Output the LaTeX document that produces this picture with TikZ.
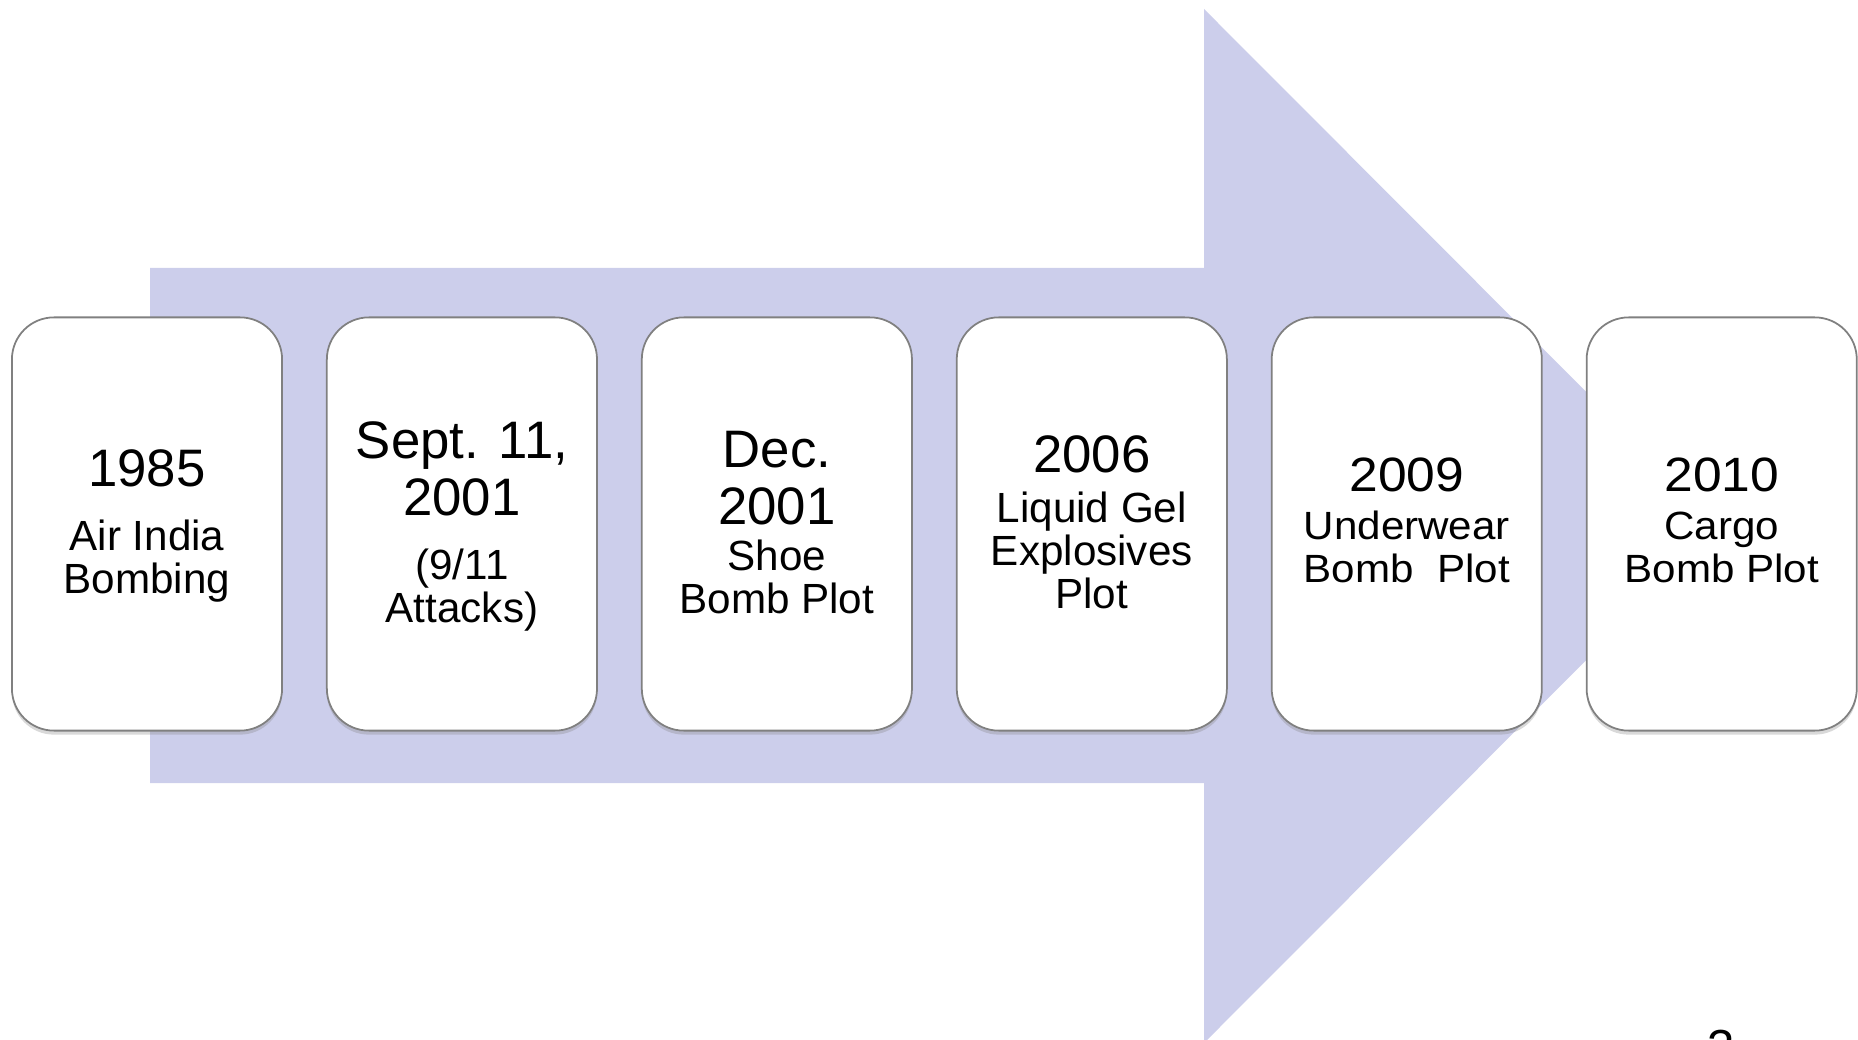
\documentclass[tikz,border=0pt]{standalone}
\usepackage{fontspec}
\setmainfont{Liberation Sans}
\newfontfamily\widesans[FakeStretch=1.07]{Liberation Sans}
\usepackage{tikz}
\usetikzlibrary{positioning,chains,shadows}
\definecolor{arrowblue}{RGB}{204,206,235}
\newcommand{\yr}[1]{{\fontsize{15}{0}\selectfont\rule[-4pt]{0pt}{16.2pt}#1}}
\newcommand{\ev}[1]{{\fontsize{12}{0}\selectfont\rule[-3pt]{0pt}{12.2pt}#1}}
\newcommand{\wyr}[1]{{\widesans\fontsize{13.7}{0}\selectfont\rule[-3.5pt]{0pt}{14pt}#1}}
\newcommand{\wev}[1]{{\widesans\fontsize{11.2}{0}\selectfont\rule[-3pt]{0pt}{12.2pt}#1}}
\tikzstyle{eventbox} = [rectangle,
    rounded corners=0.42cm,
    draw=black!50, line width=0.5pt,
    fill=white,
    minimum width=2.7cm,
    minimum height=4.13cm,
    inner sep=0pt,
    align=center,
    execute at begin node={\baselineskip=0pt\lineskiplimit=0pt\lineskip=0pt},
    drop shadow={opacity=0.3, shadow xshift=0pt, shadow yshift=-0.04cm},
    on chain]

\begin{document}
\begin{tikzpicture}[x=0.01cm, y=-0.01cm,
	node distance=0.43cm,
	start chain=going right
	]
  \useasboundingbox (0,0) rectangle (1858,1040);
  % big arrow behind the boxes
  \fill [arrowblue] (150,268) -- (1204,268) -- (1204,9) -- (1720,526)
        -- (1204,1043) -- (1204,783) -- (150,783) -- cycle;
  \node [eventbox] (y1985) at (147,524) {\yr{1985}\\[5pt] \ev{Air India}\\ \ev{Bombing}};
  \node [eventbox] (y2001) {\yr{Sept. 11,}\\ \yr{2001}\\[5pt] \ev{(9/11}\\ \ev{Attacks)}};
  \node [eventbox] (dec2001) {\yr{Dec.}\\ \yr{2001}\\ \ev{Shoe}\\ \ev{Bomb Plot}};
  \node [eventbox] (y2006) {\yr{2006}\\[1pt] \ev{Liquid Gel}\\ \ev{Explosives}\\ \ev{Plot}};
  \node [eventbox] (y2009) {\wyr{2009}\\[1pt] \wev{Underwear}\\ \wev{Bomb\ \ Plot}};
  \node [eventbox] (y2010) {\wyr{2010}\\[1pt] \wev{Cargo}\\ \wev{Bomb Plot}};
  \node [anchor=north, inner sep=0pt, font=\fontsize{14}{16}\selectfont] (pagenum) at (1721,1029) {3};
\end{tikzpicture}
\end{document}
